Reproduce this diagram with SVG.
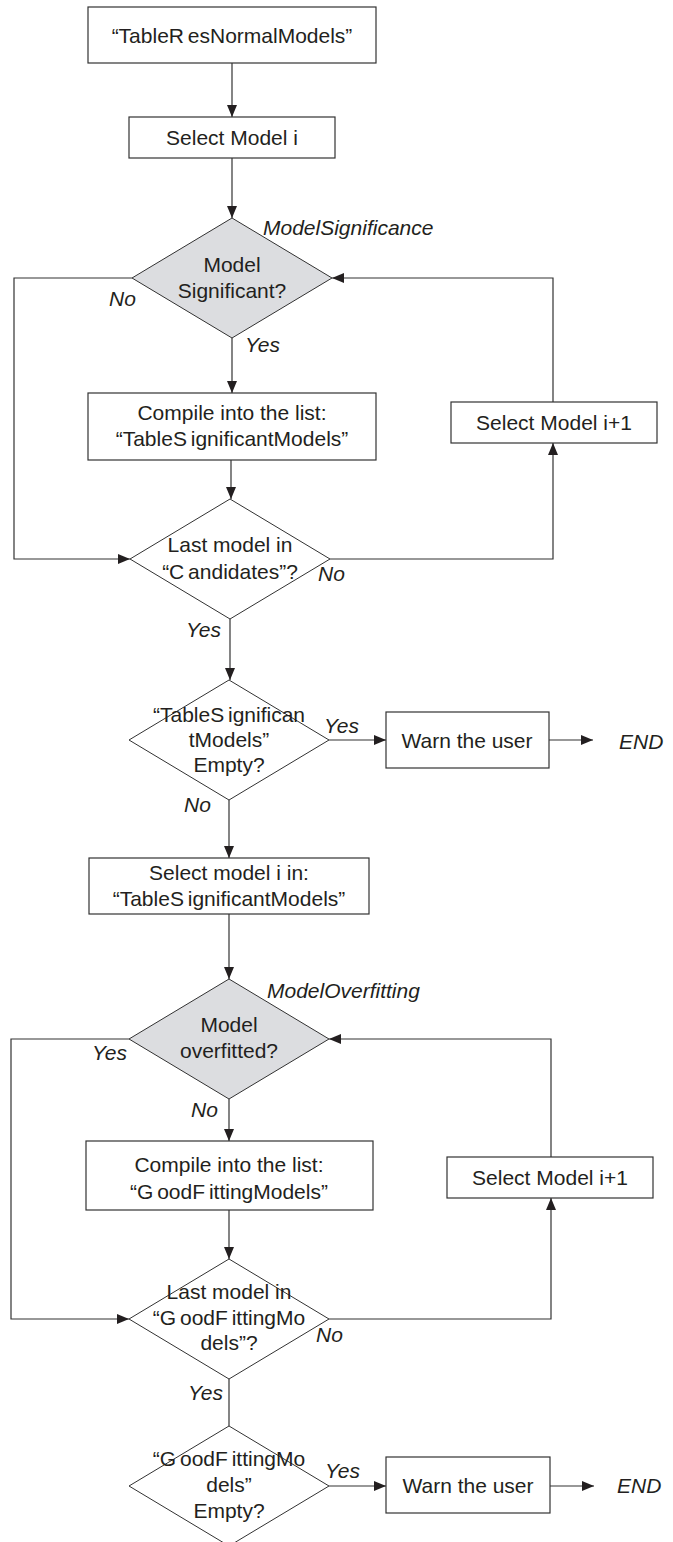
<svg xmlns="http://www.w3.org/2000/svg" width="673" height="1542" viewBox="0 0 673 1542">
<style>
  .box { fill: #ffffff; stroke: #333333; stroke-width: 1.2; }
  .dec { fill: #ffffff; stroke: #333333; stroke-width: 1; }
  .dec.grey { fill: #dcdde0; }
  .t { font-family: "Liberation Sans", Arial, sans-serif; font-size: 21px; fill: #231f20; text-anchor: middle; }
  .q { word-spacing: -2px; }
  .lbl { font-family: "Liberation Sans", Arial, sans-serif; font-size: 21px; font-style: italic; fill: #231f20; }
  .conn { fill: none; stroke: #333333; stroke-width: 1.2; }
</style>
<defs>
  <marker id="arr" markerUnits="userSpaceOnUse" markerWidth="12" markerHeight="10" refX="12" refY="5" orient="auto">
    <path d="M0,0 L12,5 L0,10 z" fill="#231f20"/>
  </marker>
</defs>
<rect width="673" height="1542" fill="#ffffff"/>

<g id="connectors">
  <path class="conn" d="M232,63 V117" marker-end="url(#arr)"/>
  <path class="conn" d="M232,158 V218" marker-end="url(#arr)"/>
  <path class="conn" d="M232,338 V393" marker-end="url(#arr)"/>
  <path class="conn" d="M231,460 V499" marker-end="url(#arr)"/>
  <path class="conn" d="M132,278 H14 V559 H130" marker-end="url(#arr)"/>
  <path class="conn" d="M330,559 H553 V443" marker-end="url(#arr)"/>
  <path class="conn" d="M553,402 V278 H332" marker-end="url(#arr)"/>
  <path class="conn" d="M230,619 V680" marker-end="url(#arr)"/>
  <path class="conn" d="M329,740 H386" marker-end="url(#arr)"/>
  <path class="conn" d="M549,740 H593" marker-end="url(#arr)"/>
  <path class="conn" d="M229,800 V858" marker-end="url(#arr)"/>
  <path class="conn" d="M229,914 V979" marker-end="url(#arr)"/>
  <path class="conn" d="M129,1039 H11 V1319 H129" marker-end="url(#arr)"/>
  <path class="conn" d="M229,1099 V1141" marker-end="url(#arr)"/>
  <path class="conn" d="M229,1210 V1259" marker-end="url(#arr)"/>
  <path class="conn" d="M329,1319 H551 V1198" marker-end="url(#arr)"/>
  <path class="conn" d="M551,1157 V1039 H329" marker-end="url(#arr)"/>
  <path class="conn" d="M229,1379 V1426"/>
  <path class="conn" d="M329,1486 H386" marker-end="url(#arr)"/>
  <path class="conn" d="M550,1486 H594" marker-end="url(#arr)"/>
</g>

<g id="n-start">
  <rect class="box" x="88" y="7" width="288" height="56"/>
  <text class="t q" x="232" y="43">“TableR esNormalModels”</text>
</g>

<g id="n-select-i">
  <rect class="box" x="129" y="117" width="206" height="41"/>
  <text class="t" x="232" y="145">Select Model i</text>
</g>

<g id="n-significant">
  <polygon class="dec grey" points="232,218 332,278 232,338 132,278"/>
  <text class="t" x="232" y="272">Model</text>
  <text class="t" x="232" y="298">Significant?</text>
</g>

<g id="n-compile-sig">
  <rect class="box" x="88" y="393" width="288" height="67"/>
  <text class="t" x="232" y="420">Compile into the list:</text>
  <text class="t q" x="232" y="446">“TableS ignificantModels”</text>
</g>

<g id="n-select-next-1">
  <rect class="box" x="451" y="402" width="206" height="41"/>
  <text class="t" x="554" y="430">Select Model i+1</text>
</g>

<g id="n-last-candidates">
  <polygon class="dec" points="230,499 330,559 230,619 130,559"/>
  <text class="t" x="230" y="552">Last model in</text>
  <text class="t q" x="230" y="579">“C andidates”?</text>
</g>

<g id="n-sig-empty">
  <polygon class="dec" points="229,680 329,740 229,800 129,740"/>
  <text class="t q" x="229" y="722">“TableS ignifican</text>
  <text class="t" x="229" y="747">tModels”</text>
  <text class="t" x="229" y="772">Empty?</text>
</g>

<g id="n-warn-1">
  <rect class="box" x="386" y="712" width="163" height="56"/>
  <text class="t" x="467" y="748">Warn the user</text>
</g>

<g id="n-select-in">
  <rect class="box" x="89" y="858" width="280" height="56"/>
  <text class="t" x="229" y="880">Select model i in:</text>
  <text class="t q" x="229" y="906">“TableS ignificantModels”</text>
</g>

<g id="n-overfitted">
  <polygon class="dec grey" points="229,979 329,1039 229,1099 129,1039"/>
  <text class="t" x="229" y="1032">Model</text>
  <text class="t" x="229" y="1058">overfitted?</text>
</g>

<g id="n-compile-good">
  <rect class="box" x="86" y="1141" width="287" height="69"/>
  <text class="t" x="229" y="1172">Compile into the list:</text>
  <text class="t q" x="229" y="1199">“G oodF ittingModels”</text>
</g>

<g id="n-select-next-2">
  <rect class="box" x="447" y="1157" width="206" height="41"/>
  <text class="t" x="550" y="1185">Select Model i+1</text>
</g>

<g id="n-last-good">
  <polygon class="dec" points="229,1259 329,1319 229,1379 129,1319"/>
  <text class="t" x="229" y="1299">Last model in</text>
  <text class="t q" x="229" y="1325">“G oodF ittingMo</text>
  <text class="t" x="229" y="1350">dels”?</text>
</g>

<g id="n-good-empty">
  <polygon class="dec" points="229,1426 329,1486 229,1546 129,1486"/>
  <text class="t q" x="229" y="1466">“G oodF ittingMo</text>
  <text class="t" x="229" y="1492">dels”</text>
  <text class="t" x="229" y="1518">Empty?</text>
</g>

<g id="n-warn-2">
  <rect class="box" x="386" y="1457" width="164" height="56"/>
  <text class="t" x="468" y="1493">Warn the user</text>
</g>

<g id="labels">
  <text class="lbl" x="263" y="235">ModelSignificance</text>
  <text class="lbl" x="109" y="306">No</text>
  <text class="lbl" x="245" y="352">Yes</text>
  <text class="lbl" x="318" y="581">No</text>
  <text class="lbl" x="186" y="637">Yes</text>
  <text class="lbl" x="324" y="733">Yes</text>
  <text class="lbl" x="619" y="749">END</text>
  <text class="lbl" x="184" y="812">No</text>
  <text class="lbl" x="267" y="998">ModelOverfitting</text>
  <text class="lbl" x="92" y="1060">Yes</text>
  <text class="lbl" x="191" y="1117">No</text>
  <text class="lbl" x="316" y="1342">No</text>
  <text class="lbl" x="188" y="1400">Yes</text>
  <text class="lbl" x="325" y="1478">Yes</text>
  <text class="lbl" x="617" y="1493">END</text>
</g>
</svg>
